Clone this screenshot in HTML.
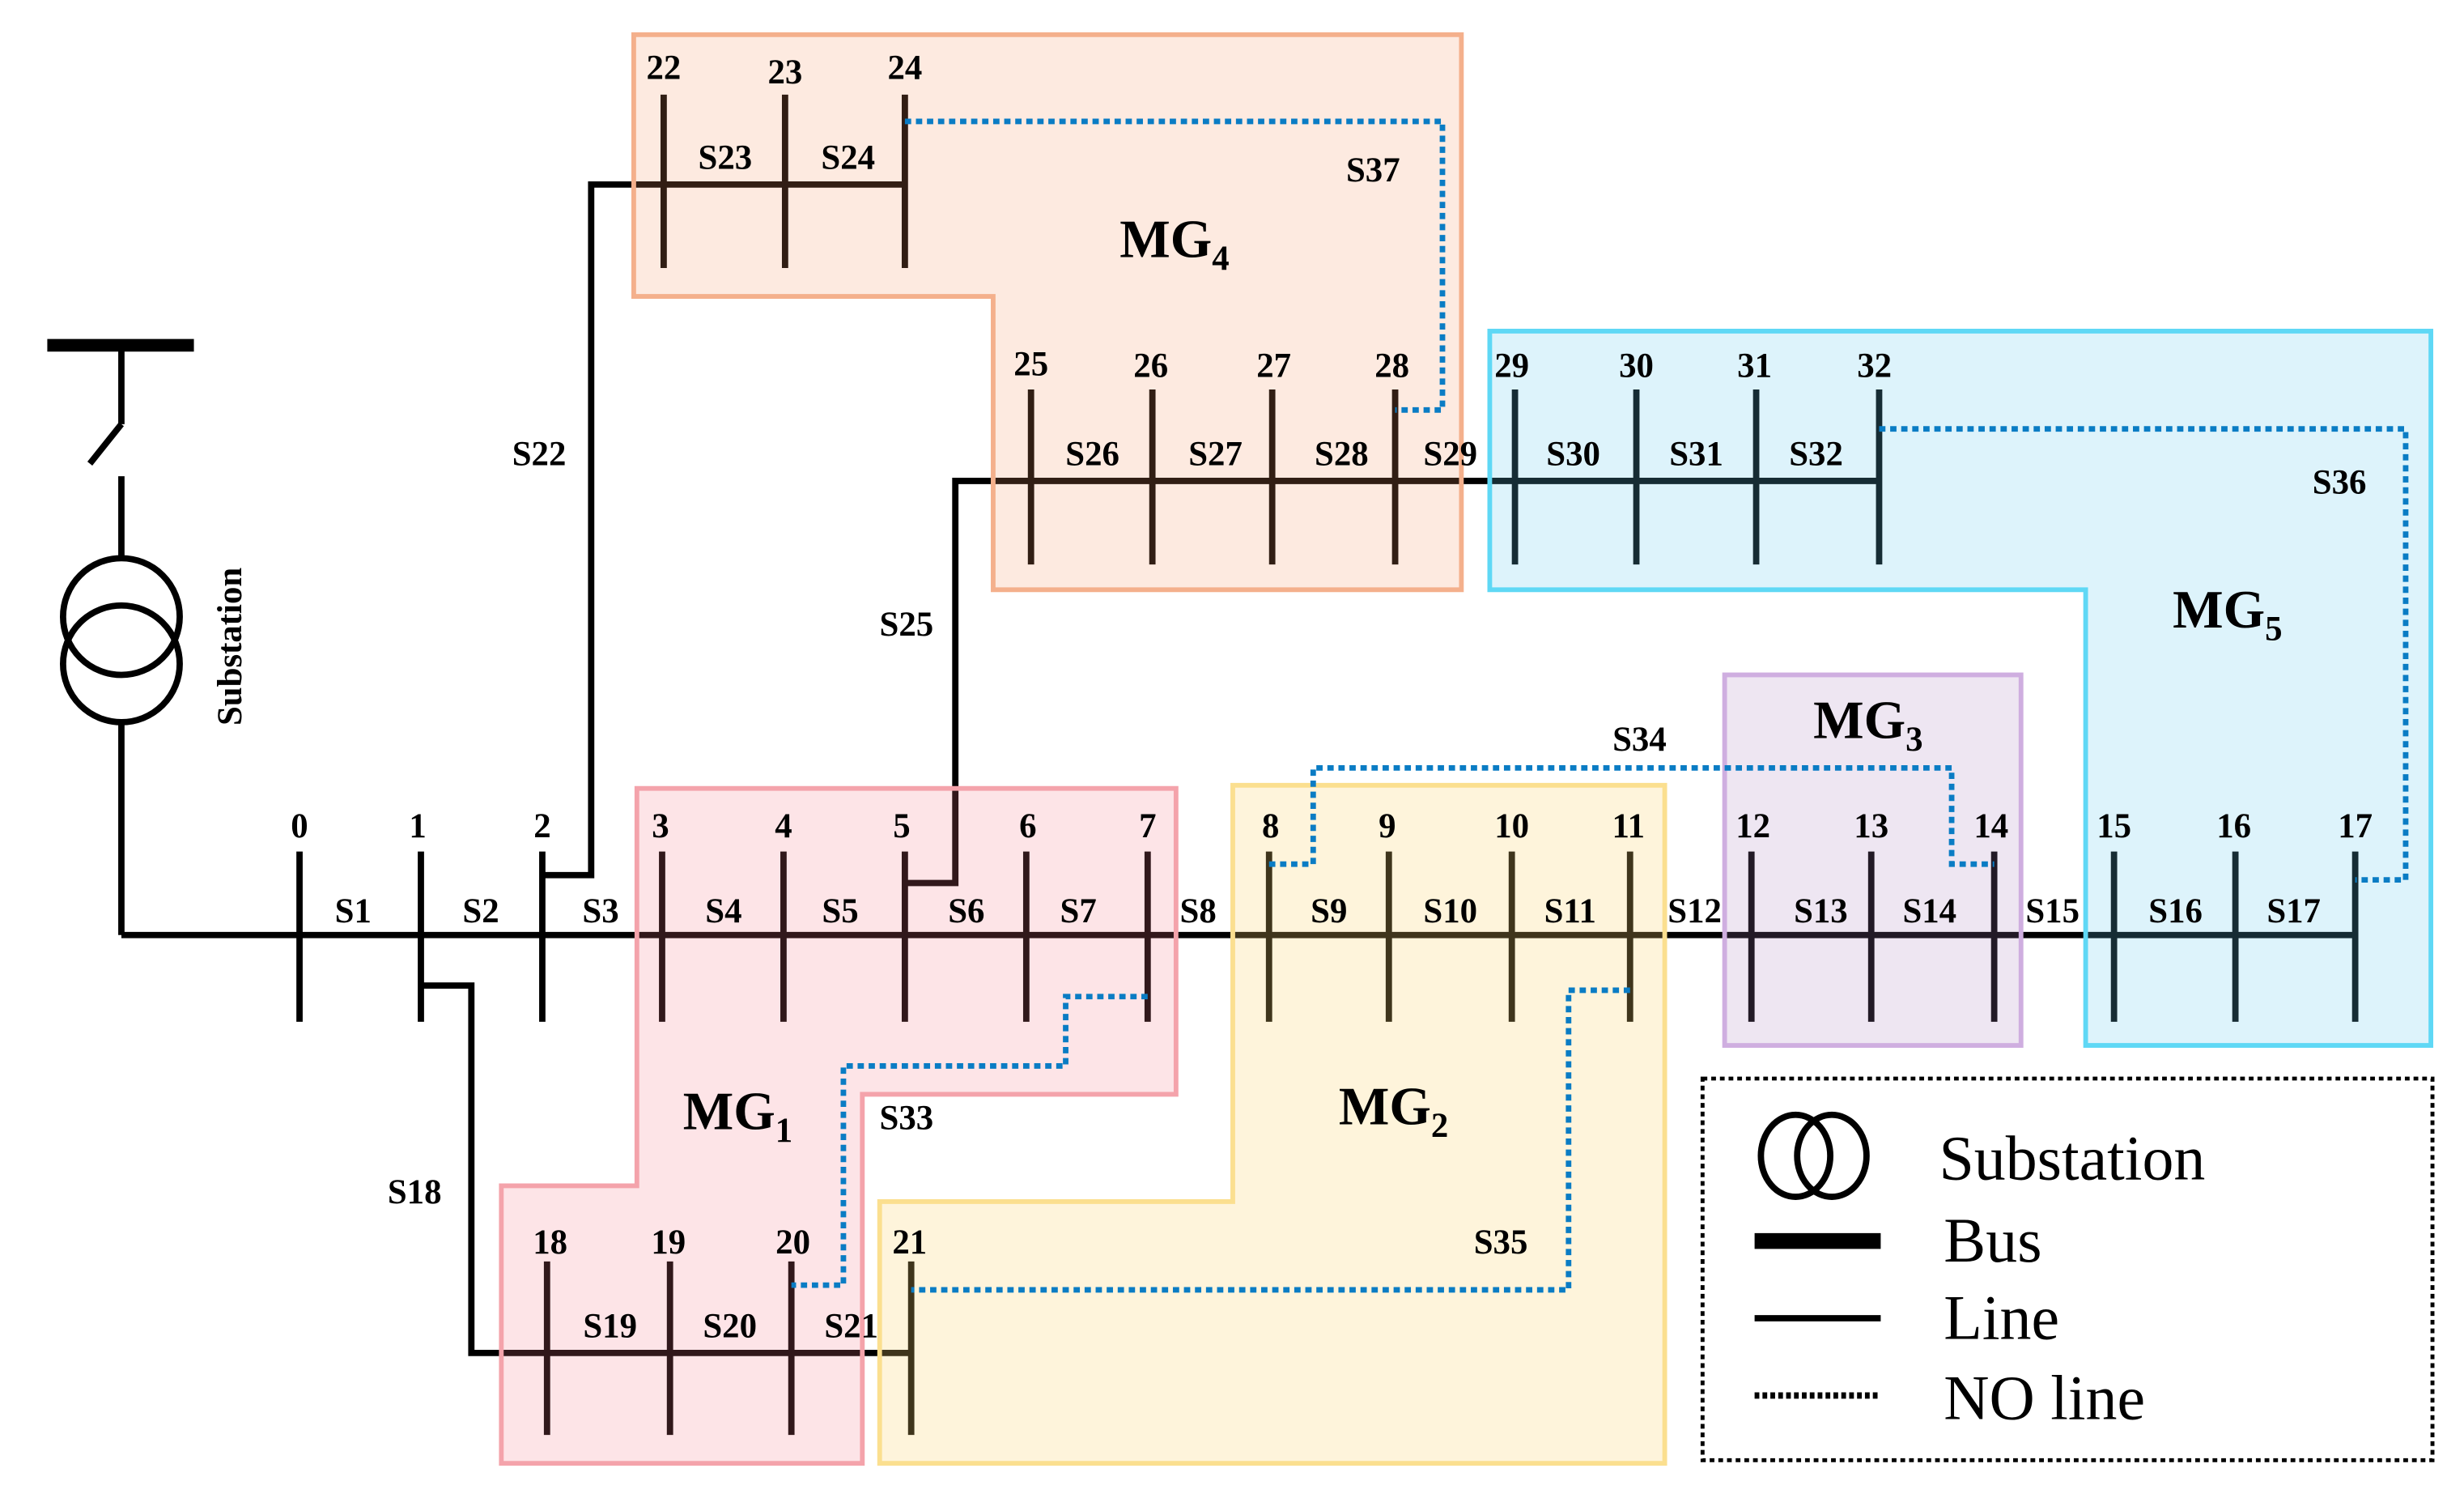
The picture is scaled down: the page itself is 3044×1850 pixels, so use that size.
<!DOCTYPE html>
<html><head><meta charset="utf-8"><style>html,body{margin:0;padding:0;background:#fff}svg{display:block}</style></head>
<body>
<svg width="3044" height="1850" viewBox="0 0 1563 950" preserveAspectRatio="none" xmlns="http://www.w3.org/2000/svg" font-family="'Liberation Serif', serif">
<g stroke="#000" stroke-width="4" fill="none">
<!-- substation -->
<line x1="30" y1="219" x2="123" y2="219" stroke-width="8"/>
<line x1="77" y1="219" x2="77" y2="269"/>
<line x1="77" y1="269" x2="57" y2="294"/>
<line x1="77" y1="302" x2="77" y2="354"/>
<ellipse cx="77" cy="391" rx="37" ry="37"/>
<ellipse cx="77" cy="421" rx="37" ry="37"/>
<line x1="77" y1="458" x2="77" y2="593"/>
<!-- main bus -->
<line x1="77" y1="593" x2="1494" y2="593"/>
<!-- branch 2 to 22 -->
<polyline points="344,555 375,555 375,117 574,117"/>
<!-- branch 5 to 25 -->
<polyline points="574,560 606,560 606,305 1192,305"/>
<!-- branch 1 to 18 -->
<polyline points="267,625 299,625 299,858 578,858"/>
<!-- ticks main -->
<g>
<line x1="190" y1="540" x2="190" y2="648"/><line x1="267" y1="540" x2="267" y2="648"/>
<line x1="344" y1="540" x2="344" y2="648"/><line x1="420" y1="540" x2="420" y2="648"/>
<line x1="497" y1="540" x2="497" y2="648"/><line x1="574" y1="540" x2="574" y2="648"/>
<line x1="651" y1="540" x2="651" y2="648"/><line x1="728" y1="540" x2="728" y2="648"/>
<line x1="805" y1="540" x2="805" y2="648"/><line x1="881" y1="540" x2="881" y2="648"/>
<line x1="959" y1="540" x2="959" y2="648"/><line x1="1034" y1="540" x2="1034" y2="648"/>
<line x1="1111" y1="540" x2="1111" y2="648"/><line x1="1187" y1="540" x2="1187" y2="648"/>
<line x1="1265" y1="540" x2="1265" y2="648"/><line x1="1341" y1="540" x2="1341" y2="648"/>
<line x1="1418" y1="540" x2="1418" y2="648"/><line x1="1494" y1="540" x2="1494" y2="648"/>
</g>
<line x1="421" y1="60" x2="421" y2="170"/><line x1="498" y1="60" x2="498" y2="170"/><line x1="574" y1="60" x2="574" y2="170"/>
<line x1="654" y1="247" x2="654" y2="358"/><line x1="731" y1="247" x2="731" y2="358"/><line x1="807" y1="247" x2="807" y2="358"/>
<line x1="885" y1="247" x2="885" y2="358"/><line x1="961" y1="247" x2="961" y2="358"/><line x1="1038" y1="247" x2="1038" y2="358"/>
<line x1="1114" y1="247" x2="1114" y2="358"/><line x1="1192" y1="247" x2="1192" y2="358"/>
<line x1="347" y1="800" x2="347" y2="910"/><line x1="425" y1="800" x2="425" y2="910"/><line x1="502" y1="800" x2="502" y2="910"/><line x1="578" y1="800" x2="578" y2="910"/>
</g>
<!-- regions -->
<g stroke-width="3">
<polygon points="402,22 927,22 927,374 630,374 630,188 402,188" fill="rgba(244,150,100,0.2)" stroke="#f4b08c"/>
<polygon points="945,210 1542,210 1542,663 1323,663 1323,374 945,374" fill="rgba(100,200,235,0.22)" stroke="#5fd8f5"/>
<rect x="1094" y="428" width="188" height="235" fill="rgba(170,130,190,0.2)" stroke="#cfaee0"/>
<polygon points="404,500 746,500 746,694 547,694 547,928 318,928 318,752 404,752" fill="rgba(245,120,135,0.2)" stroke="#f4a3ab"/>
<polygon points="782,498 1056,498 1056,928 558,928 558,762 782,762" fill="rgba(250,210,110,0.25)" stroke="#fbdf8f"/>
</g>
<!-- NO lines -->
<g stroke="#0a7cc4" stroke-width="3.5" stroke-dasharray="4 3" fill="none">
<polyline points="574,77 915,77 915,260 885,260"/>
<polyline points="1192,272 1526,272 1526,558 1494,558"/>
<polyline points="805,548 833,548 833,487 1238,487 1238,548 1265,548"/>
<polyline points="728,632 676,632 676,676 535,676 535,815 502,815"/>
<polyline points="1034,628 995,628 995,818 578,818"/>
</g>
<!-- labels -->
<g font-weight="bold" font-size="22" text-anchor="middle" fill="#000">
<text x="190" y="531">0</text><text x="265" y="531">1</text><text x="344" y="531">2</text><text x="419" y="531">3</text>
<text x="497" y="531">4</text><text x="572" y="531">5</text><text x="652" y="531">6</text><text x="728" y="531">7</text>
<text x="806" y="531">8</text><text x="880" y="531">9</text><text x="959" y="531">10</text><text x="1033" y="531">11</text>
<text x="1112" y="531">12</text><text x="1187" y="531">13</text><text x="1263" y="531">14</text><text x="1341" y="531">15</text>
<text x="1417" y="531">16</text><text x="1494" y="531">17</text>
<text x="421" y="50">22</text><text x="498" y="53">23</text><text x="574" y="50">24</text>
<text x="654" y="238">25</text><text x="730" y="239">26</text><text x="808" y="239">27</text><text x="883" y="239">28</text>
<text x="959" y="239">29</text><text x="1038" y="239">30</text><text x="1113" y="239">31</text><text x="1189" y="239">32</text>
<text x="349" y="795">18</text><text x="424" y="795">19</text><text x="503" y="795">20</text><text x="577" y="795">21</text>
<text x="224" y="585">S1</text><text x="305" y="585">S2</text><text x="381" y="585">S3</text><text x="459" y="585">S4</text>
<text x="533" y="585">S5</text><text x="613" y="585">S6</text><text x="684" y="585">S7</text><text x="760" y="585">S8</text>
<text x="843" y="585">S9</text><text x="920" y="585">S10</text><text x="996" y="585">S11</text><text x="1075" y="585">S12</text>
<text x="1155" y="585">S13</text><text x="1224" y="585">S14</text><text x="1302" y="585">S15</text><text x="1380" y="585">S16</text>
<text x="1455" y="585">S17</text>
<text x="460" y="107">S23</text><text x="538" y="107">S24</text>
<text x="693" y="295">S26</text><text x="771" y="295">S27</text><text x="851" y="295">S28</text><text x="920" y="295">S29</text>
<text x="998" y="295">S30</text><text x="1076" y="295">S31</text><text x="1152" y="295">S32</text>
<text x="387" y="848">S19</text><text x="463" y="848">S20</text><text x="540" y="848">S21</text>
<text x="263" y="763">S18</text><text x="342" y="295">S22</text><text x="575" y="403">S25</text>
<text x="871" y="115">S37</text><text x="1484" y="313">S36</text><text x="1040" y="476">S34</text>
<text x="575" y="716">S33</text><text x="952" y="795">S35</text>
<text transform="translate(153,410) rotate(-90)">Substation</text>
</g>
<g font-weight="bold" font-size="34" fill="#000" text-anchor="middle">
<text x="745" y="163">MG<tspan font-size="22" dy="8">4</tspan></text>
<text x="1413" y="398">MG<tspan font-size="22" dy="8">5</tspan></text>
<text x="1185" y="468">MG<tspan font-size="22" dy="8">3</tspan></text>
<text x="468" y="716">MG<tspan font-size="22" dy="8">1</tspan></text>
<text x="884" y="713">MG<tspan font-size="22" dy="8">2</tspan></text>
</g>
<!-- legend -->
<rect x="1080" y="684" width="463" height="242" fill="none" stroke="#000" stroke-width="2.5" stroke-dasharray="3 2.5"/>
<ellipse cx="1139" cy="733" rx="22" ry="26" fill="none" stroke="#000" stroke-width="4"/>
<ellipse cx="1162" cy="733" rx="22" ry="26" fill="none" stroke="#000" stroke-width="4"/>
<line x1="1113" y1="787" x2="1193" y2="787" stroke="#000" stroke-width="10"/>
<line x1="1113" y1="836" x2="1193" y2="836" stroke="#000" stroke-width="4"/>
<line x1="1113" y1="885" x2="1193" y2="885" stroke="#000" stroke-width="4" stroke-dasharray="3 2"/>
<g font-size="40" fill="#000">
<text x="1230" y="748">Substation</text>
<text x="1233" y="800">Bus</text>
<text x="1233" y="849">Line</text>
<text x="1233" y="900">NO line</text>
</g>
</svg>
</body></html>
